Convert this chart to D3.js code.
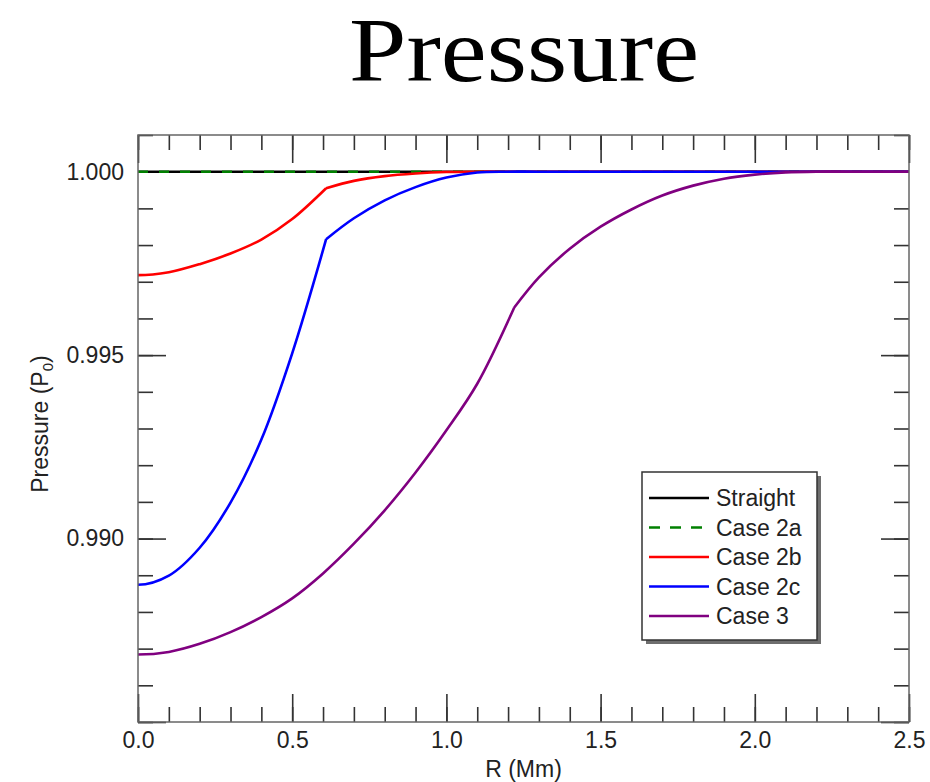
<!DOCTYPE html>
<html>
<head>
<meta charset="utf-8">
<script src="https://cdn.jsdelivr.net/npm/d3@7"></script>
<style>
  html, body { margin: 0; padding: 0; background: #fff; }
  svg { display: block; }
</style>
</head>
<body>
<svg id="chart" width="930" height="782"></svg>
<script>
// Radial pressure profiles, normalised to P0
const seriesNames = ["Straight", "Case 2a", "Case 2b", "Case 2c", "Case 3"];
const seriesColors = ["#000000", "#008000", "#ff0000", "#0000ff", "#800080"];

const rStraight = [0.0, 2.5];
const pStraight = [1.0, 1.0];

const rCase2a = [0.0, 2.5];
const pCase2a = [1.0, 1.0];

const rCase2b = [0.0, 0.1, 0.2, 0.3, 0.4, 0.5, 0.61, 0.7, 0.8, 0.9, 1.0, 1.1, 1.2, 2.5];
const pCase2b = [0.99718, 0.99726, 0.99748, 0.99777, 0.99815, 0.99871, 0.99955, 0.99975, 0.99988, 0.99995, 0.99999, 1.0, 1.0, 1.0];

const rCase2c = [0.0, 0.1, 0.2, 0.3, 0.4, 0.5, 0.61, 0.7, 0.8, 0.9, 1.0, 1.1, 1.2, 1.3, 2.5];
const pCase2c = [0.98874, 0.98899, 0.98975, 0.99098, 0.99270, 0.99505, 0.99816, 0.99873, 0.99922, 0.99958, 0.99984, 0.99998, 1.0, 1.0, 1.0];

const rCase3 = [0.0, 0.1, 0.2, 0.3, 0.4, 0.5, 0.6, 0.7, 0.8, 0.9, 1.0, 1.1, 1.22, 1.3, 1.4, 1.5, 1.6, 1.7, 1.8, 1.9, 2.0, 2.1, 2.2, 2.3, 2.5];
const pCase3 = [0.98684, 0.98691, 0.98713, 0.98745, 0.98786, 0.98837, 0.98905, 0.98986, 0.99077, 0.99180, 0.99295, 0.99422, 0.99630, 0.99712, 0.99790, 0.99850, 0.99897, 0.99935, 0.99962, 0.99981, 0.99992, 0.99998, 1.0, 1.0, 1.0];

// radius where each profile changes regime (slope break)
const kinkR = [null, null, 0.61, 0.61, 1.22];

const xMajorTicks = [0.0, 0.5, 1.0, 1.5, 2.0, 2.5];
const xMinorTicks = d3.range(0, 26).map(i => i / 10);
const yMajorTicks = [0.985, 0.990, 0.995, 1.000];
const yLabelledTicks = [0.990, 0.995, 1.000];
const yMinorTicks = d3.range(985, 1002).map(i => i / 1000);

const xDomain = [0, 2.5];
const yDomain = [0.985, 1.001];

const titleText = "Pressure";
const xTitle = "R (Mm)";

const svg = d3.select("#chart");
const margin = { left: 138, right: 21, top: 135, bottom: 60 };
const W = 930, H = 782;
const plotW = W - margin.left - margin.right;
const plotH = H - margin.top - margin.bottom;

const x = d3.scaleLinear().domain(xDomain).range([margin.left, margin.left + plotW]);
const y = d3.scaleLinear().domain(yDomain).range([margin.top + plotH, margin.top]);

const sansFont = "'Liberation Sans', Arial, Helvetica, sans-serif";

// title
svg.append("text")
  .attr("x", 524).attr("y", 81)
  .attr("text-anchor", "middle")
  .attr("font-family", "'Liberation Serif', 'Times New Roman', serif")
  .attr("font-size", 90)
  .attr("textLength", 350)
  .attr("lengthAdjust", "spacingAndGlyphs")
  .attr("fill", "#000")
  .text(titleText);

// clip for data lines
svg.append("defs").append("clipPath").attr("id", "plotClip")
  .append("rect")
  .attr("x", margin.left).attr("y", margin.top)
  .attr("width", plotW).attr("height", plotH);

// axes: ticks point inward on all four sides
const tickColor = "#333";
function styleAxis(g) {
  g.select(".domain").remove();
  g.selectAll(".tick line").attr("stroke", tickColor).attr("stroke-width", 1.6);
  g.selectAll(".tick text")
    .attr("font-family", sansFont)
    .attr("font-size", 23)
    .attr("fill", "#222");
}

const bottomY = margin.top + plotH;
const rightX = margin.left + plotW;

svg.append("g").attr("transform", `translate(0,${bottomY})`)
  .call(d3.axisBottom(x).tickValues(xMinorTicks).tickSize(-15).tickFormat(""))
  .call(styleAxis);
svg.append("g").attr("transform", `translate(0,${bottomY})`)
  .call(d3.axisBottom(x).tickValues(xMajorTicks).tickSize(-28).tickPadding(10).tickFormat(d3.format(".1f")))
  .call(styleAxis);

svg.append("g").attr("transform", `translate(0,${margin.top})`)
  .call(d3.axisTop(x).tickValues(xMinorTicks).tickSize(-15).tickFormat(""))
  .call(styleAxis);
svg.append("g").attr("transform", `translate(0,${margin.top})`)
  .call(d3.axisTop(x).tickValues(xMajorTicks).tickSize(-28).tickFormat(""))
  .call(styleAxis);

svg.append("g").attr("transform", `translate(${margin.left},0)`)
  .call(d3.axisLeft(y).tickValues(yMinorTicks).tickSize(-15).tickFormat(""))
  .call(styleAxis);
svg.append("g").attr("transform", `translate(${margin.left},0)`)
  .call(d3.axisLeft(y).tickValues(yMajorTicks).tickSize(-28).tickPadding(14)
    .tickFormat(d => yLabelledTicks.some(v => Math.abs(v - d) < 1e-9) ? d3.format(".3f")(d) : ""))
  .call(styleAxis);

svg.append("g").attr("transform", `translate(${rightX},0)`)
  .call(d3.axisRight(y).tickValues(yMinorTicks).tickSize(-15).tickFormat(""))
  .call(styleAxis);
svg.append("g").attr("transform", `translate(${rightX},0)`)
  .call(d3.axisRight(y).tickValues(yMajorTicks).tickSize(-28).tickFormat(""))
  .call(styleAxis);

// axis titles
svg.append("text")
  .attr("x", x(1.25)).attr("y", 777)
  .attr("text-anchor", "middle")
  .attr("font-family", sansFont).attr("font-size", 23).attr("fill", "#222")
  .text(xTitle);

const yTitle = svg.append("text")
  .attr("transform", "translate(48,424) rotate(-90)")
  .attr("text-anchor", "middle")
  .attr("font-family", sansFont).attr("font-size", 23).attr("fill", "#222");
yTitle.append("tspan").text("Pressure (P");
yTitle.append("tspan").attr("font-size", 15).attr("dy", 5).text("0");
yTitle.append("tspan").attr("dy", -5).text(")");

// data lines
const seriesR = [rStraight, rCase2a, rCase2b, rCase2c, rCase3];
const seriesP = [pStraight, pCase2a, pCase2b, pCase2c, pCase3];

const line = d3.line()
  .x(d => x(d[0]))
  .y(d => y(d[1]))
  .curve(d3.curveCatmullRom.alpha(0.5));

const linesG = svg.append("g").attr("clip-path", "url(#plotClip)");
seriesNames.forEach((name, i) => {
  const pts = seriesR[i].map((r, j) => [r, seriesP[i][j]]);
  const k = kinkR[i];
  // smooth on each side of the slope break, sharp at the break itself
  const pieces = k === null ? [pts] : [pts.filter(p => p[0] <= k), pts.filter(p => p[0] >= k)];
  // the profiles are radial (even in R), so reflect the first sample across R = 0
  // to give the spline a flat start on the axis; the clip hides R < 0
  const first = pieces[0];
  if (first.length > 2 && first[0][0] === 0) first.unshift([-first[1][0], first[1][1]]);
  const path = pieces.map(pc => line(pc)).join("");
  linesG.append("path")
    .attr("d", path)
    .attr("fill", "none")
    .attr("stroke", seriesColors[i])
    .attr("stroke-width", 2.6)
    .attr("stroke-linejoin", "round")
    .attr("stroke-dasharray", name === "Case 2a" ? "10,11" : null);
});

// plot frame
svg.append("rect")
  .attr("x", margin.left).attr("y", margin.top)
  .attr("width", plotW).attr("height", plotH)
  .attr("fill", "none").attr("stroke", "#666").attr("stroke-width", 1.5);

// legend
const lg = svg.append("g").attr("transform", "translate(642,472)");
const lgW = 175, lgH = 168;
lg.append("rect").attr("x", 4).attr("y", 4).attr("width", lgW).attr("height", lgH)
  .attr("fill", "#555").attr("opacity", 0.85);
lg.append("rect").attr("width", lgW).attr("height", lgH)
  .attr("fill", "#fff").attr("stroke", "#333").attr("stroke-width", 1.5);
seriesNames.forEach((name, i) => {
  const ry = 26 + i * 29.5;
  lg.append("line")
    .attr("x1", 7).attr("x2", 67).attr("y1", ry).attr("y2", ry)
    .attr("stroke", seriesColors[i]).attr("stroke-width", 2.6)
    .attr("stroke-dasharray", name === "Case 2a" ? "11,10" : null);
  lg.append("text")
    .attr("x", 74).attr("y", ry).attr("dy", "0.35em")
    .attr("font-family", sansFont).attr("font-size", 23).attr("fill", "#222")
    .text(name);
});
</script>
</body>
</html>
